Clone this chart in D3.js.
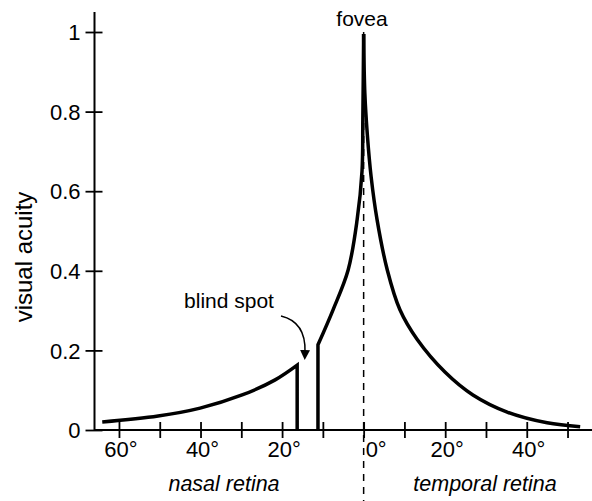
<!DOCTYPE html>
<html>
<head>
<meta charset="utf-8">
<script src="https://cdn.jsdelivr.net/npm/d3@7"></script>
<style>
  body { margin: 0; background: #fff; }
  text { font-family: "Liberation Sans", Arial, Helvetica, sans-serif; fill: #000; }
</style>
</head>
<body>
<svg id="chart" width="592" height="501"></svg>
<script>
// eccentricity in degrees (nasal < 0, temporal > 0) and visual acuity
var nasalDeg      = [-64.1, -50.4, -40.1, -29.8, -21.7, -16.3];
var nasalAcuity   = [0.020, 0.035, 0.055, 0.088, 0.126, 0.163];

var blindSpot     = [-16.3, -11.2]; // edges of the blind spot

var centralDeg    = [-11.2, -7.5, -3.8, -1.6, -0.4, -0.2, 0];
var centralAcuity = [0.214, 0.302, 0.402, 0.528, 0.650, 0.780, 0.995];

var temporalDeg    = [0, 0.3, 0.9, 1.84, 3.3, 5.8, 8.9, 13.1, 20.0, 26.8, 35.2, 45.0, 53.1];
var temporalAcuity = [0.995, 0.845, 0.743, 0.636, 0.528, 0.402, 0.302, 0.228, 0.145, 0.088, 0.045, 0.018, 0.008];

var xTicks      = [-60, -50, -40, -30, -20, -10, 0, 10, 20, 30, 40, 50];
var xTickLabels = [-60, -40, -20, 0, 20, 40];
var yTicks      = [0, 0.2, 0.4, 0.6, 0.8, 1];

var svg = d3.select("#chart");

var x = d3.scaleLinear().domain([-66, 56]).range([94.5, 592]);
var y = d3.scaleLinear().domain([0, 1]).range([430, 32]);

function zip(a, b) { return a.map(function(d, i) { return [d, b[i]]; }); }

var line = d3.line()
  .x(function(d) { return x(d[0]); })
  .y(function(d) { return y(d[1]); })
  .curve(d3.curveCatmullRom.alpha(0.5));

//-------------------------------
// dashed fovea line
svg.append("line")
  .attr("x1", x(0)).attr("x2", x(0))
  .attr("y1", y(1)).attr("y2", 501)
  .attr("stroke", "#000")
  .attr("stroke-width", 1.5)
  .attr("stroke-dasharray", "7,6");

//-------------------------------
// axes
var yAxis = d3.axisLeft(y).tickValues(yTicks).tickSize(0).tickPadding(0)
  .tickFormat(function(d) { return d === 0 || d === 1 ? d3.format("d")(d) : d3.format(".1f")(d); });

var gy = svg.append("g")
  .attr("transform", "translate(" + x(-66) + ",0)")
  .call(yAxis);
gy.select(".domain").remove();
gy.selectAll(".tick line").remove();
gy.selectAll(".tick text")
  .attr("x", -14)
  .attr("dy", "0.35em")
  .style("font-size", "22px")
  .style("font-family", "'Liberation Sans', Arial, sans-serif");
gy.selectAll(".tick").append("line")
  .attr("x1", -9).attr("x2", 8)
  .attr("stroke", "#000").attr("stroke-width", 1.8);
gy.append("line")
  .attr("y1", y(1.05)).attr("y2", y(0))
  .attr("stroke", "#000").attr("stroke-width", 2);

var xAxis = d3.axisBottom(x).tickValues(xTicks).tickSize(0).tickFormat("");
var gx = svg.append("g")
  .attr("transform", "translate(0," + y(0) + ")")
  .call(xAxis);
gx.select(".domain").remove();
gx.append("line")
  .attr("x1", x(-66)).attr("x2", 592)
  .attr("stroke", "#000").attr("stroke-width", 2);
gx.selectAll(".tick").append("line")
  .attr("y1", -8).attr("y2", 8)
  .attr("stroke", "#000").attr("stroke-width", 1.8);

svg.append("g").selectAll("text")
  .data(xTickLabels)
  .enter().append("text")
  .attr("x", function(d) { return x(d) + 2; })
  .attr("y", 457)
  .attr("text-anchor", function(d) { return d === 0 ? "start" : "middle"; })
  .style("font-size", "22px")
  .text(function(d) { return Math.abs(d) + "°"; });

//-------------------------------
// acuity curve
var nasalPath = line(zip(nasalDeg, nasalAcuity)) +
  "L" + x(blindSpot[0]) + "," + y(0);
var centralPath = "M" + x(blindSpot[1]) + "," + y(0) +
  line(zip(centralDeg, centralAcuity)).replace(/^M/, "L");
var temporalPath = line(zip(temporalDeg, temporalAcuity));

svg.append("g").selectAll("path")
  .data([nasalPath, centralPath, temporalPath])
  .enter().append("path")
  .attr("d", function(d) { return d; })
  .attr("fill", "none")
  .attr("stroke", "#000")
  .attr("stroke-width", 3.5)
  .attr("stroke-linejoin", "miter");

//-------------------------------
// labels
svg.append("text")
  .attr("transform", "translate(32,257) rotate(-90)")
  .attr("text-anchor", "middle")
  .style("font-size", "24px")
  .text("visual acuity");

svg.append("text")
  .attr("x", 362).attr("y", 26)
  .attr("text-anchor", "middle")
  .style("font-size", "21px")
  .text("fovea");

svg.append("text")
  .attr("x", 229).attr("y", 308)
  .attr("text-anchor", "middle")
  .style("font-size", "21px")
  .text("blind spot");

svg.append("defs").append("marker")
  .attr("id", "arrow")
  .attr("viewBox", "0 0 10 10")
  .attr("refX", 2).attr("refY", 5)
  .attr("markerWidth", 10).attr("markerHeight", 10)
  .attr("markerUnits", "userSpaceOnUse")
  .attr("orient", "auto")
  .append("path")
  .attr("d", "M0,0L10,5L0,10Z")
  .attr("fill", "#000");

svg.append("path")
  .attr("d", "M281,316Q306,322 305,352")
  .attr("fill", "none")
  .attr("stroke", "#000")
  .attr("stroke-width", 1.5)
  .attr("marker-end", "url(#arrow)");

svg.append("text")
  .attr("x", 224).attr("y", 491)
  .attr("text-anchor", "middle")
  .style("font-size", "21.5px")
  .style("font-style", "italic")
  .text("nasal retina");

svg.append("text")
  .attr("x", 485).attr("y", 491)
  .attr("text-anchor", "middle")
  .style("font-size", "21.5px")
  .style("font-style", "italic")
  .text("temporal retina");
</script>
</body>
</html>
